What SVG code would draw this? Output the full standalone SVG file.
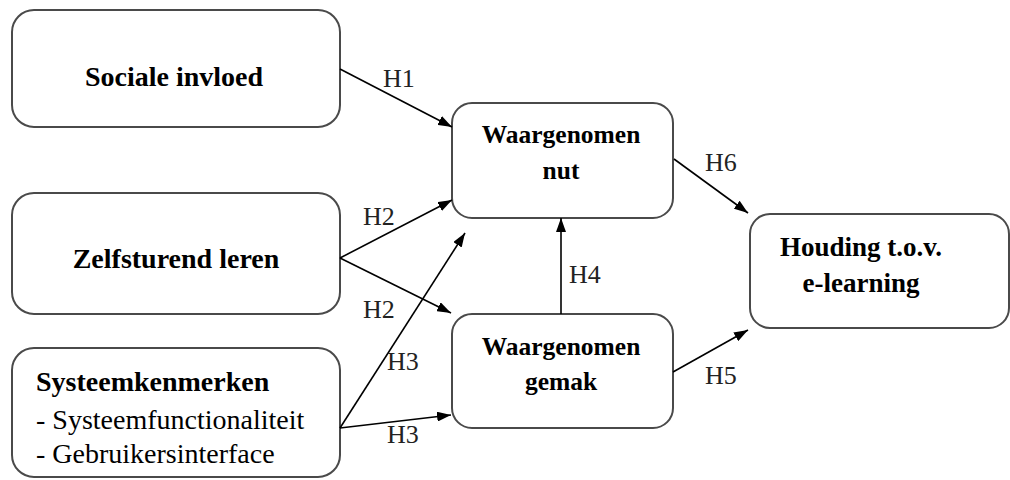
<svg xmlns="http://www.w3.org/2000/svg" width="1010" height="480" viewBox="0 0 1010 480">
<style>
.box{fill:#fff;stroke:#4a4a4a;stroke-width:2}
.b{font-family:"Liberation Serif",serif;font-weight:bold;font-size:28px;fill:#000}
.m{font-size:25.5px}
.r{font-family:"Liberation Serif",serif;font-size:28px;fill:#000}
.lbl{font-family:"Liberation Serif",serif;font-size:26px;fill:#222}
.c{text-anchor:middle}
.edge{stroke:#000;stroke-width:1.6;fill:none;marker-end:url(#ah)}
</style>
<defs>
<marker id="ah" viewBox="0 0 14 10" refX="14" refY="5" markerWidth="14" markerHeight="10" markerUnits="userSpaceOnUse" orient="auto">
<path d="M0,0 L14,5 L0,10 Z" fill="#000"/>
</marker>
</defs>
<rect width="1010" height="480" fill="#fff"/>
<g id="sociale">
<rect class="box" x="12" y="10" width="328" height="117" rx="22"/>
<text class="b c" x="174" y="86">Sociale invloed</text>
</g>
<g id="zelfsturend">
<rect class="box" x="12" y="193" width="328" height="121" rx="22"/>
<text class="b c" x="176" y="268">Zelfsturend leren</text>
</g>
<g id="systeem">
<rect class="box" x="12" y="348" width="328" height="129" rx="22"/>
<text class="b" x="36" y="391">Systeemkenmerken</text>
<text class="r" x="36" y="429">- Systeemfunctionaliteit</text>
<text class="r" x="36" y="463">- Gebruikersinterface</text>
</g>
<g id="nut">
<rect class="box" x="452" y="103" width="221" height="115" rx="20"/>
<text class="b m c" x="561" y="143">Waargenomen</text>
<text class="b m c" x="561" y="179">nut</text>
</g>
<g id="gemak">
<rect class="box" x="452" y="314" width="221" height="114" rx="20"/>
<text class="b m c" x="561" y="355">Waargenomen</text>
<text class="b m c" x="561" y="390">gemak</text>
</g>
<g id="houding">
<rect class="box" x="750" y="214" width="259" height="114" rx="20"/>
<text class="b c" x="861" y="256" style="font-size:27px">Houding t.o.v.</text>
<text class="b c" x="861" y="292" style="font-size:27px">e-learning</text>
</g>
<g id="connectors">
<line class="edge" x1="340" y1="69" x2="452" y2="127"/>
<line class="edge" x1="340" y1="258" x2="452" y2="200"/>
<line class="edge" x1="340" y1="258" x2="451" y2="313"/>
<line class="edge" x1="340" y1="428" x2="465" y2="233"/>
<line class="edge" x1="340" y1="428" x2="451" y2="415"/>
<line class="edge" x1="561" y1="314" x2="561" y2="218"/>
<line class="edge" x1="674" y1="159" x2="748" y2="213"/>
<line class="edge" x1="673" y1="372" x2="748" y2="330"/>
<text class="lbl" x="383" y="87">H1</text>
<text class="lbl" x="363" y="225">H2</text>
<text class="lbl" x="363" y="318">H2</text>
<text class="lbl" x="387" y="370">H3</text>
<text class="lbl" x="387" y="443">H3</text>
<text class="lbl" x="569" y="283">H4</text>
<text class="lbl" x="705" y="171">H6</text>
<text class="lbl" x="705" y="384">H5</text>
</g>
</svg>
